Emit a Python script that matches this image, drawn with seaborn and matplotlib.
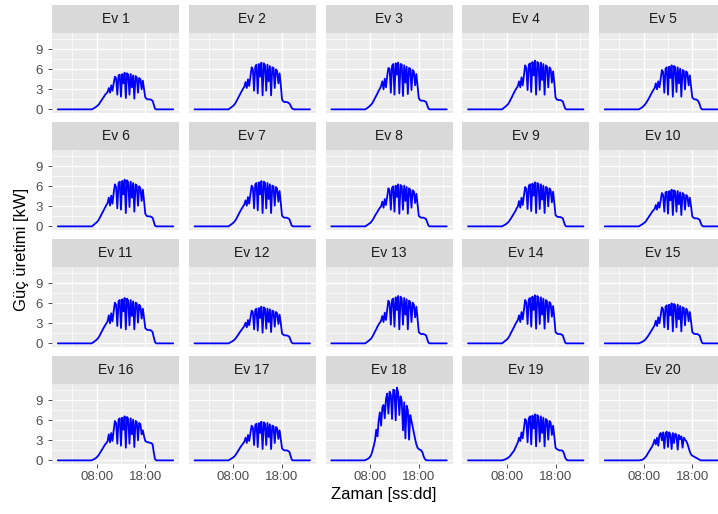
import numpy as np
import pandas as pd
import matplotlib
matplotlib.use("Agg")
import matplotlib.pyplot as plt
import seaborn as sns

# Daylight PV output [kW] per house, 15-minute readings from 06:45 to 20:30
ev1 = [0, 0, 0.1, 0.2, 0.3, 0.45, 0.6, 0.8,
       1.1, 1.35, 1.65, 1.9, 2.2, 2.4, 2.6, 3.2,
       2.5, 3.6, 2.8, 3.9, 4.9, 4.7, 2.2, 5.1,
       5.2, 1.9, 5.3, 3.9, 5.5, 1.7, 5.4, 5.2,
       2.2, 5.3, 3.3, 5.1, 1.6, 5.0, 4.8, 2.5,
       4.7, 4.5, 3.0, 4.3, 3.0, 1.8, 1.6, 1.5,
       1.5, 1.5, 1.4, 1.3, 0.7, 0.1, 0, 0]
ev2 = [0, 0, 0.14, 0.28, 0.42, 0.56, 0.77, 1.05,
       1.4, 1.75, 2.1, 2.45, 2.8, 3.1, 3.4, 4.1,
       3.2, 4.5, 3.5, 4.9, 6.3, 6.0, 2.8, 6.4,
       6.7, 2.4, 6.8, 4.9, 7.0, 2.1, 6.9, 6.6,
       2.8, 6.7, 4.2, 6.5, 2.1, 6.3, 6.2, 3.2,
       6.0, 5.7, 3.9, 5.4, 3.6, 1.5, 1.2, 1.1,
       1.1, 1.1, 1.0, 0.9, 0.6, 0.2, 0.05, 0]
ev3 = [0, 0, 0.12, 0.25, 0.4, 0.55, 0.75, 1.0,
       1.35, 1.7, 2.05, 2.4, 2.8, 3.1, 3.5, 4.2,
       3.0, 4.6, 3.3, 5.0, 6.2, 6.1, 2.5, 6.5,
       6.8, 2.2, 6.9, 5.2, 7.0, 2.4, 6.8, 6.7,
       2.0, 6.6, 4.0, 6.4, 2.3, 6.2, 6.1, 2.9,
       5.9, 5.6, 3.6, 5.3, 3.5, 1.7, 1.4, 1.3,
       1.3, 1.3, 1.2, 1.1, 0.6, 0.1, 0, 0]
ev4 = [0, 0, 0.15, 0.3, 0.45, 0.6, 0.8, 1.1,
       1.45, 1.8, 2.2, 2.55, 2.9, 3.2, 3.5, 4.2,
       3.3, 4.8, 3.6, 5.1, 6.6, 6.2, 2.9, 6.7,
       6.9, 2.6, 7.1, 5.1, 7.3, 2.2, 7.1, 6.9,
       2.9, 7.0, 4.4, 6.8, 2.2, 6.6, 6.4, 3.3,
       6.3, 6.0, 4.0, 5.7, 4.0, 1.8, 1.5, 1.4,
       1.4, 1.4, 1.3, 1.2, 0.6, 0.1, 0, 0]
ev5 = [0, 0, 0.1, 0.2, 0.35, 0.5, 0.7, 0.95,
       1.25, 1.55, 1.9, 2.25, 2.6, 2.9, 3.2, 3.9,
       3.0, 4.2, 3.3, 4.6, 5.9, 5.6, 2.5, 6.1,
       6.3, 2.2, 6.4, 4.7, 6.6, 1.9, 6.5, 6.3,
       2.6, 6.3, 3.9, 6.1, 1.9, 5.9, 5.8, 3.0,
       5.7, 5.4, 3.6, 5.1, 3.4, 1.8, 1.6, 1.5,
       1.5, 1.4, 1.2, 0.8, 0.2, 0, 0, 0]
ev6 = [0, 0, 0.14, 0.3, 0.45, 0.6, 0.8, 1.1,
       1.45, 1.8, 2.15, 2.5, 2.85, 3.2, 3.5, 4.3,
       3.1, 4.6, 3.4, 5.0, 6.3, 5.9, 2.7, 6.5,
       6.7, 2.5, 6.8, 4.8, 7.0, 2.0, 6.9, 6.6,
       2.9, 6.7, 4.3, 6.5, 2.2, 6.3, 6.1, 3.1,
       6.0, 5.7, 3.8, 5.5, 3.8, 1.9, 1.6, 1.5,
       1.5, 1.5, 1.4, 1.3, 0.7, 0.1, 0, 0]
ev7 = [0, 0, 0.14, 0.27, 0.4, 0.55, 0.75, 1.0,
       1.35, 1.7, 2.05, 2.4, 2.7, 3.0, 3.3, 3.9,
       3.1, 4.4, 3.4, 4.8, 6.1, 5.8, 2.7, 6.3,
       6.5, 2.4, 6.6, 4.8, 6.8, 2.0, 6.7, 6.5,
       2.7, 6.5, 4.1, 6.3, 2.0, 6.1, 6.0, 3.1,
       5.9, 5.6, 3.7, 5.3, 3.5, 1.6, 1.4, 1.3,
       1.3, 1.3, 1.2, 1.1, 0.6, 0.1, 0, 0]
ev8 = [0, 0, 0.13, 0.25, 0.38, 0.5, 0.7, 0.95,
       1.25, 1.6, 1.9, 2.2, 2.5, 2.8, 3.0, 3.7,
       2.8, 4.1, 3.2, 4.4, 5.7, 5.4, 2.5, 5.8,
       6.0, 2.2, 6.1, 4.4, 6.3, 1.9, 6.2, 6.0,
       2.5, 6.1, 3.8, 5.9, 1.9, 5.7, 5.5, 2.8,
       5.4, 5.2, 3.5, 4.9, 3.3, 1.6, 1.4, 1.3,
       1.3, 1.3, 1.2, 1.1, 0.6, 0.1, 0, 0]
ev9 = [0, 0, 0.1, 0.2, 0.3, 0.45, 0.6, 0.85,
       1.1, 1.4, 1.7, 2.0, 2.3, 2.7, 3.0, 3.8,
       2.8, 4.3, 3.2, 4.6, 5.9, 5.6, 2.6, 6.1,
       6.3, 2.3, 6.4, 4.6, 6.6, 2.0, 6.5, 6.3,
       2.6, 6.3, 4.0, 6.1, 2.0, 5.9, 5.8, 3.0,
       5.7, 5.4, 3.6, 5.2, 3.5, 1.7, 1.5, 1.4,
       1.4, 1.4, 1.3, 1.2, 0.6, 0.1, 0, 0]
ev10 = [0, 0, 0.11, 0.22, 0.33, 0.45, 0.6, 0.8,
        1.1, 1.35, 1.65, 1.9, 2.2, 2.4, 2.6, 3.2,
        2.5, 3.6, 2.8, 3.9, 5.0, 4.7, 2.2, 5.1,
        5.2, 1.9, 5.3, 3.9, 5.5, 1.7, 5.4, 5.2,
        2.2, 5.3, 3.3, 5.1, 1.7, 5.0, 4.8, 2.5,
        4.7, 4.5, 3.0, 4.3, 3.0, 1.5, 1.3, 1.2,
        1.2, 1.2, 1.1, 1.0, 0.5, 0.1, 0, 0]
ev11 = [0, 0, 0.14, 0.27, 0.4, 0.55, 0.75, 1.0,
        1.35, 1.7, 2.05, 2.4, 2.7, 3.0, 3.3, 4.2,
        3.0, 4.5, 3.3, 4.8, 6.1, 5.8, 2.6, 6.3,
        6.5, 2.3, 6.6, 4.8, 6.8, 2.1, 6.7, 6.4,
        2.7, 6.5, 4.1, 6.3, 2.1, 6.1, 6.0, 3.1,
        5.8, 5.5, 3.7, 5.2, 3.8, 2.3, 2.1, 2.0,
        2.0, 2.0, 1.9, 1.7, 0.9, 0.2, 0, 0]
ev12 = [0, 0, 0.1, 0.2, 0.3, 0.42, 0.58, 0.78,
        1.05, 1.3, 1.6, 1.85, 2.1, 2.35, 2.6, 3.1,
        2.4, 3.5, 2.7, 3.8, 4.9, 4.7, 2.1, 5.0,
        5.2, 1.9, 5.3, 3.8, 5.5, 1.6, 5.4, 5.2,
        2.2, 5.2, 3.2, 5.1, 1.7, 4.9, 4.8, 2.5,
        4.7, 4.5, 2.9, 4.3, 3.0, 1.5, 1.3, 1.2,
        1.2, 1.2, 1.1, 1.0, 0.5, 0.1, 0, 0]
ev13 = [0, 0, 0.14, 0.28, 0.43, 0.57, 0.78, 1.07,
        1.4, 1.8, 2.1, 2.5, 2.85, 3.1, 3.4, 4.1,
        3.2, 4.6, 3.5, 5.0, 6.4, 6.0, 2.8, 6.5,
        6.7, 2.5, 6.9, 5.0, 7.1, 2.1, 7.0, 6.7,
        2.8, 6.8, 4.3, 6.6, 2.1, 6.4, 6.2, 3.2,
        6.1, 5.8, 3.9, 5.5, 3.7, 1.7, 1.5, 1.4,
        1.4, 1.4, 1.3, 1.2, 0.6, 0.1, 0, 0]
ev14 = [0, 0, 0.15, 0.29, 0.43, 0.58, 0.8, 1.08,
        1.45, 1.8, 2.15, 2.5, 2.9, 3.2, 3.5, 4.2,
        3.2, 4.7, 3.6, 5.0, 6.5, 6.1, 2.9, 6.6,
        6.8, 2.5, 7.0, 5.0, 7.2, 2.2, 7.1, 6.8,
        2.9, 6.9, 4.3, 6.7, 2.2, 6.5, 6.3, 3.2,
        6.2, 5.9, 4.0, 5.6, 3.8, 1.7, 1.5, 1.4,
        1.4, 1.4, 1.3, 1.2, 0.6, 0.1, 0, 0]
ev15 = [0, 0, 0.08, 0.15, 0.25, 0.35, 0.5, 0.7,
        0.95, 1.2, 1.5, 1.8, 2.1, 2.4, 2.7, 3.4,
        2.6, 3.9, 3.0, 4.2, 5.4, 5.1, 2.4, 5.5,
        5.7, 2.1, 5.8, 4.2, 6.0, 1.8, 5.9, 5.7,
        2.4, 5.8, 3.6, 5.6, 1.8, 5.4, 5.3, 2.7,
        5.2, 4.9, 3.3, 4.7, 3.3, 1.7, 1.5, 1.4,
        1.4, 1.4, 1.3, 1.2, 0.6, 0.1, 0, 0]
ev16 = [0, 0, 0.1, 0.2, 0.3, 0.45, 0.65, 0.9,
        1.2, 1.5, 1.8, 2.1, 2.4, 2.6, 2.9, 3.9,
        2.7, 4.1, 2.9, 4.5, 5.9, 5.6, 2.5, 6.1,
        6.3, 2.2, 6.4, 4.6, 6.6, 1.9, 6.5, 6.2,
        2.5, 6.3, 3.9, 6.1, 2.0, 5.9, 5.8, 3.0,
        5.6, 5.4, 3.9, 4.5, 3.6, 2.9, 2.8, 2.7,
        2.7, 2.6, 2.6, 2.4, 1.2, 0.2, 0, 0]
ev17 = [0, 0, 0.12, 0.23, 0.35, 0.46, 0.64, 0.87,
        1.16, 1.45, 1.75, 2.05, 2.3, 2.55, 2.8, 3.4,
        2.6, 3.8, 2.9, 4.1, 5.2, 4.9, 2.3, 5.3,
        5.5, 2.0, 5.6, 4.1, 5.8, 1.7, 5.7, 5.5,
        2.3, 5.6, 3.5, 5.4, 1.7, 5.2, 5.1, 2.6,
        5.0, 4.8, 3.2, 4.5, 3.2, 1.8, 1.6, 1.5,
        1.5, 1.5, 1.4, 1.3, 0.7, 0.1, 0, 0]
ev18 = [0, 0.05, 0.12, 0.22, 0.35, 0.55, 0.9, 1.5,
        2.2, 3.0, 4.6, 3.6, 6.0, 7.2, 5.2, 7.9,
        8.3, 6.3, 9.2, 10.0, 7.0, 10.3, 9.8, 6.2,
        10.6, 10.5, 6.0, 10.9, 10.2, 6.8, 9.6, 8.9,
        4.5, 8.7, 3.3, 8.2, 7.5, 3.1, 6.8, 5.9,
        5.0, 4.1, 3.2, 2.4, 1.9, 1.7, 1.6, 1.5,
        1.2, 0.6, 0.2, 0.05, 0, 0, 0, 0]
ev19 = [0, 0, 0.05, 0.1, 0.18, 0.28, 0.4, 0.55,
        0.75, 1.0, 1.25, 1.5, 1.9, 2.3, 2.7, 3.4,
        2.9, 4.2, 3.3, 4.8, 6.2, 5.9, 2.7, 6.3,
        6.6, 2.4, 6.7, 4.8, 6.9, 2.1, 6.8, 6.5,
        2.8, 6.6, 4.1, 6.4, 2.1, 6.2, 6.0, 3.1,
        5.9, 5.6, 3.8, 5.2, 3.6, 1.9, 1.7, 1.6,
        1.5, 1.5, 1.5, 1.4, 1.0, 0.4, 0.1, 0]
ev20 = [0, 0, 0.02, 0.05, 0.1, 0.2, 0.4, 0.6,
        0.9, 1.2, 1.5, 1.8, 2.1, 2.5, 3.1, 2.4,
        3.4, 2.2, 3.8, 4.1, 3.0, 4.2, 1.8, 4.1,
        4.3, 2.0, 4.2, 3.9, 1.7, 4.1, 2.6, 4.0,
        3.8, 1.6, 3.8, 3.2, 3.6, 1.9, 3.4, 3.1,
        2.9, 2.5, 1.9, 1.3, 0.9, 0.7, 0.6, 0.5,
        0.4, 0.3, 0.2, 0.1, 0, 0, 0, 0]

evler = [ev1, ev2, ev3, ev4, ev5, ev6, ev7, ev8, ev9, ev10,
         ev11, ev12, ev13, ev14, ev15, ev16, ev17, ev18, ev19, ev20]
ev_adlari = [f"Ev {i}" for i in range(1, 21)]

# Full day at 15-minute resolution; night readings are zero
saat = np.arange(96) * 0.25
GECE_ONCE = 27   # 00:00 .. 06:30
GECE_SONRA = 13  # 20:45 .. 23:45

x_ticks = [8, 18]
x_tick_labels = ["08:00", "18:00"]
y_ticks = [0, 3, 6, 9]

parcalar = []
for ad, gunduz in zip(ev_adlari, evler):
    assert len(gunduz) == 56
    guc = [0.0] * GECE_ONCE + list(gunduz) + [0.0] * GECE_SONRA
    parcalar.append(pd.DataFrame({"ev": ad, "saat": saat, "guc": guc}))
df = pd.concat(parcalar, ignore_index=True)

sns.set_theme(style="darkgrid")
plt.rcParams["font.family"] = ["Liberation Sans", "DejaVu Sans"]

W, H = 718, 514
fig = plt.figure(figsize=(W / 100, H / 100), dpi=100)
fig.patch.set_facecolor("white")

ymax = df["guc"].max()
xspan = saat.max() - saat.min()
xlim = (saat.min() - 0.05 * xspan, saat.max() + 0.05 * xspan)
ylim = (-0.05 * ymax, 1.05 * ymax)

PW, PH, SH = 127, 80, 28
for k, ad in enumerate(ev_adlari):
    r, c = divmod(k, 5)
    x0 = 52 + 136.75 * c
    top = 33 + 117 * r
    ax = fig.add_axes([x0 / W, 1 - (top + PH) / H, PW / W, PH / H])
    sns.lineplot(data=df[df["ev"] == ad], x="saat", y="guc", ax=ax,
                 color="#0000FF", linewidth=1.3)
    ax.set_facecolor("#EBEBEB")
    ax.set_xlim(xlim)
    ax.set_ylim(ylim)
    ax.set_xticks(x_ticks)
    ax.set_xticks([3, 13, 23], minor=True)
    ax.set_yticks(y_ticks)
    ax.set_yticks([1.5, 4.5, 7.5, 10.5], minor=True)
    ax.grid(which="major", color="white", linewidth=1.0)
    ax.grid(which="minor", color="white", linewidth=0.5)
    ax.set_axisbelow(True)
    for s in ax.spines.values():
        s.set_visible(False)
    ax.set_xlabel("")
    ax.set_ylabel("")
    ax.tick_params(which="minor", length=0)
    ax.tick_params(which="major", length=2.6, width=0.6, color="#333333",
                   labelcolor="#4D4D4D", labelsize=9.5)
    if c == 0:
        ax.set_yticklabels([str(v) for v in y_ticks])
        ax.tick_params(axis="y", left=True, pad=4)
    else:
        ax.tick_params(axis="y", left=False, labelleft=False)
    if r == 3:
        ax.set_xticklabels(x_tick_labels)
        ax.tick_params(axis="x", bottom=True, pad=2.5)
    else:
        ax.tick_params(axis="x", bottom=False, labelbottom=False)

    strip = fig.add_axes([x0 / W, 1 - top / H, PW / W, SH / H])
    strip.set_facecolor("#D9D9D9")
    strip.set_xticks([])
    strip.set_yticks([])
    strip.grid(False)
    for s in strip.spines.values():
        s.set_visible(False)
    strip.text(0.5, 0.5, ad, ha="center", va="center",
               color="#1A1A1A", fontsize=10)

fig.text(384 / W, 1 - 494 / H, "Zaman [ss:dd]", ha="center", va="center",
         fontsize=12, color="black")
fig.text(22 / W, 1 - 249 / H, "Güç üretimi [kW]", ha="center", va="center",
         rotation=90, fontsize=12, color="black")

fig.savefig("out.png", dpi=100, facecolor="white")
